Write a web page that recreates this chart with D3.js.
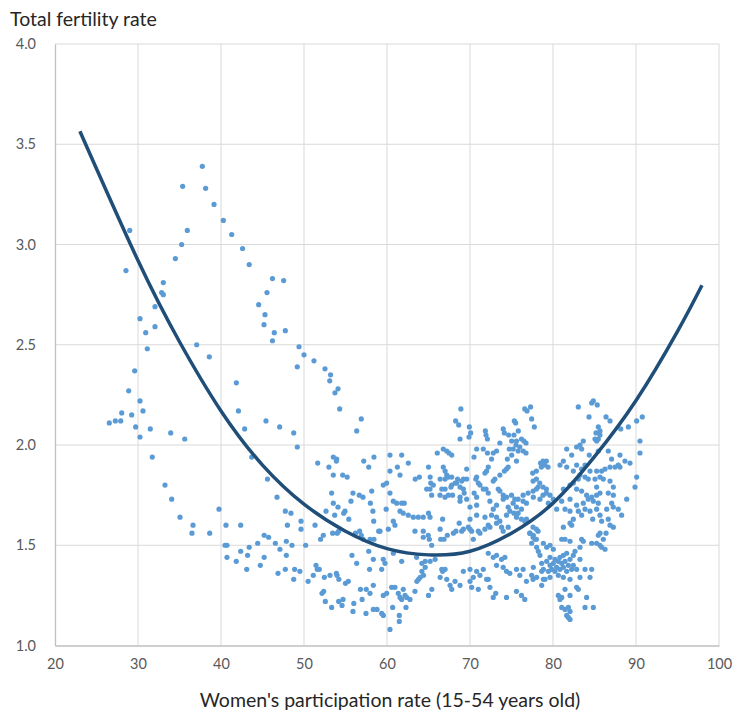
<!DOCTYPE html>
<html>
<head>
<meta charset="utf-8">
<script src="https://cdn.jsdelivr.net/npm/d3@7"></script>
<style>
  html, body { margin: 0; padding: 0; background: #fff; }
  svg { display: block; font-family: Lato, "Open Sans", sans-serif; }
</style>
</head>
<body>
<div id="chart"></div>
<script>
// axis ticks
const xTicks = [20, 30, 40, 50, 60, 70, 80, 90, 100];
const yTicks = [1.0, 1.5, 2.0, 2.5, 3.0, 3.5, 4.0];

// trend line
const trendPoints = [
  [23.0, 3.565], [30, 2.92], [35, 2.515], [40, 2.17], [45, 1.90], [50, 1.705],
  [55, 1.57], [60, 1.483], [65, 1.452], [70, 1.47], [75, 1.56], [80, 1.71],
  [85, 1.942], [90, 2.222], [95, 2.567], [97.95, 2.797]
];

// [participation rate, fertility rate]
const points = [
  [37.75,3.39],[35.38,3.29],[38.15,3.28],[39.16,3.20],[29.0,3.07],[35.94,3.07],[35.26,3.0],[34.5,2.93],[28.55,2.87],[33.05,2.81],[32.85,2.76],[33.05,2.75],
  [40.28,3.12],[41.29,3.05],[42.6,2.98],[43.4,2.90],[46.2,2.83],[47.55,2.82],[45.54,2.76],[44.54,2.70],[45.3,2.65],[45.18,2.60],[46.42,2.56],[47.75,2.57],[46.2,2.52],[49.4,2.49],
  [32.05,2.69],[30.24,2.63],[30.93,2.56],[32.05,2.59],[31.12,2.48],[37.07,2.50],[38.59,2.44],[29.6,2.37],[28.88,2.27],[30.24,2.22],[30.6,2.17],[28.04,2.16],[29.24,2.15],[26.54,2.11],[27.27,2.12],[27.92,2.12],[29.72,2.09],[31.48,2.08],[30.24,2.04],[33.94,2.06],[35.63,2.03],[31.72,1.94],[33.25,1.80],[34.06,1.73],
  [35.06,1.64],[36.63,1.60],[36.5,1.56],[38.64,1.56],[39.76,1.68],
  [50.0,2.45],[49.19,2.39],[51.2,2.42],[52.53,2.38],[53.2,2.35],[53.1,2.32],[54.1,2.28],[53.73,2.26],[41.85,2.31],[54.3,2.18],[56.9,2.13],[56.35,2.07],[42.1,2.17],[42.85,2.08],[45.42,2.12],[47.07,2.09],[48.76,2.06],[49.19,1.99],[43.7,1.94],[45.6,1.83],[46.75,1.74],[51.65,1.91],[53.0,1.89],[53.53,1.94],[53.94,1.93],[53.9,1.92],[57.2,1.92],[58.43,1.94],[57.8,1.89],[53.53,1.85],[54.66,1.85],[55.2,1.84],[53.33,1.76],[55.9,1.76],[56.66,1.75],[57.1,1.74],[58.16,1.77],
  [40.6,1.60],[42.37,1.60],[40.48,1.50],[40.72,1.50],[40.72,1.44],[41.84,1.42],[42.37,1.47],[43.1,1.38],[43.2,1.45],[43.4,1.49],[44.42,1.51],[45.2,1.55],[45.74,1.54],[44.74,1.40],[45.2,1.44],[46.55,1.51],[47.1,1.48],[47.87,1.52],[48.55,1.50],[47.87,1.45],[47.75,1.67],[48.43,1.66],[48.0,1.60],[49.64,1.62],[49.64,1.58],[51.33,1.60],[50.2,1.50],[46.87,1.36],[47.75,1.38],[48.87,1.38],[49.5,1.37],[48.76,1.33],[50.5,1.32],[51.12,1.35],[51.45,1.40],[51.6,1.38],[51.85,1.38],[52.45,1.34],[53.13,1.35],[53.9,1.36],[53.98,1.35],[54.2,1.33],[55.0,1.31],[55.34,1.32],[52.17,1.26],[52.37,1.27],[52.57,1.22],[53.33,1.19],[54.18,1.22],[54.7,1.23],[54.58,1.20],[55.9,1.17],[56.0,1.21],[57.0,1.23],[56.8,1.28],[57.5,1.28],[57.95,1.26],[57.47,1.16],[58.35,1.18],[58.8,1.18],[58.35,1.30],[57.9,1.38],[58.35,1.43],[57.8,1.47],[55.78,1.45],[56.35,1.41],[52.0,1.53],[52.33,1.55],[52.65,1.67],[53.53,1.71],[54.1,1.69],[53.7,1.65],[54.78,1.66],[54.94,1.67],[55.4,1.63],[55.66,1.72],[53.45,1.56],[54.0,1.56],[54.18,1.57],[56.2,1.56],[56.7,1.57],[56.9,1.55],[58.0,1.71],[58.3,1.67],[58.4,1.62],[57.15,1.53],[57.95,1.53],[58.43,1.53],[59.0,1.57],
  [68.9,2.18],[68.27,2.12],[68.64,2.10],[69.92,2.09],[68.8,2.03],[69.88,2.04],[70.08,2.06],[71.85,2.07],[71.93,2.05],[72.1,2.03],[76.6,2.18],[76.87,2.17],[77.3,2.19],[77.43,2.13],[77.75,2.09],[75.34,2.12],[75.5,2.11],[74.0,2.08],[74.14,2.06],[74.66,2.05],
  [75.82,2.07],[75.3,2.05],[75.02,2.02],[75.6,2.02],[76.2,2.03],[76.5,2.02],[76.75,2.01],[75.54,2.00],[76.0,1.99],[75.2,1.98],[75.8,1.97],[76.42,1.97],[74.73,1.98],[75.02,1.95],[75.6,1.92],[74.5,1.93],[76.75,1.96],
  [73.6,2.01],[73.2,1.97],[72.8,1.96],[72.1,1.96],[71.6,1.98],[70.8,1.98],[72.6,1.93],[70.48,1.94],[69.6,1.88],[72.2,1.89],[72.0,1.87],[71.8,1.86],[74.4,1.88],[74.6,1.89],[74.14,1.87],[73.6,1.85],[72.8,1.82],[73.0,1.83],
  [66.06,1.96],[66.78,1.98],[67.2,1.97],[67.47,1.96],[67.8,1.95],[66.78,1.89],[67.0,1.87],[67.2,1.85],[67.4,1.84],[67.8,1.84],[66.4,1.83],[67.0,1.83],[65.0,1.89],[65.2,1.84],[65.27,1.81],[64.78,1.78],[63.4,1.83],[63.9,1.84],[68.4,1.81],[69.0,1.82],[69.2,1.83],[69.6,1.83],[70.8,1.84],[70.7,1.83],[71.0,1.81],[71.2,1.80],[68.8,1.79],[69.2,1.78],[69.3,1.76],[67.8,1.80],[68.2,1.81],[68.5,1.83],[66.6,1.78],[67.0,1.78],[67.7,1.79],[71.6,1.78],[71.93,1.78],[72.2,1.76],[70.5,1.76],[70.8,1.74],[73.4,1.78],[73.6,1.77],[74.0,1.75],
  [74.0,1.73],[74.4,1.74],[75.0,1.75],[75.4,1.73],[75.8,1.73],[76.4,1.72],[76.8,1.71],[75.2,1.71],[74.6,1.69],[75.6,1.69],[76.2,1.68],[74.8,1.67],[75.3,1.66],[75.8,1.66],
  [76.4,1.75],[77.0,1.76],[77.6,1.77],[78.0,1.78],[78.8,1.75],[79.2,1.76],[77.6,1.82],[78.0,1.83],[78.4,1.81],[78.2,1.79],[78.8,1.79],[79.2,1.78],[78.0,1.87],[78.6,1.89],[79.0,1.90],[79.4,1.89],[78.8,1.92],[79.2,1.92],[78.5,1.91],[77.55,1.86],
  [60.36,1.95],[61.77,1.95],[61.25,1.89],[62.57,1.91],[60.36,1.87],[61.57,1.85],[59.55,1.80],[59.96,1.81],[60.36,1.76],[60.76,1.72],[61.17,1.71],[61.77,1.71],[62.08,1.71],[59.9,1.68],[61.57,1.67],[61.96,1.66],[62.57,1.65],[63.17,1.64],[63.77,1.64],[64.37,1.64],[65.18,1.64],[65.0,1.66],[66.7,1.63],[70.0,1.63],[70.8,1.65],[71.8,1.64],[72.6,1.65],[73.2,1.64],[65.18,1.78],[65.38,1.75],[65.58,1.80],[66.39,1.75],[66.99,1.74],[67.4,1.75],[67.9,1.75],[68.8,1.74],[69.6,1.73],[68.8,1.72],[70.0,1.69],[70.8,1.70],[72.4,1.72],[72.8,1.68],[73.2,1.70],
  [60.76,1.62],[60.96,1.60],[59.16,1.57],[60.16,1.58],[63.37,1.57],[64.37,1.57],[64.37,1.54],[64.97,1.55],[65.1,1.53],[65.38,1.50],[66.4,1.58],[66.47,1.53],[66.87,1.53],
  [67.27,1.55],[68.0,1.56],[68.3,1.57],[68.7,1.61],[69.0,1.57],[69.2,1.58],[69.8,1.59],[70.0,1.58],[70.2,1.57],[70.4,1.53],
  [71.0,1.57],[71.2,1.56],[71.8,1.58],[72.2,1.60],[72.4,1.59],[73.2,1.61],[73.6,1.62],[73.8,1.59],[74.0,1.57],[74.6,1.59],[74.4,1.65],[75.6,1.64],[76.2,1.63],[76.6,1.62],[76.8,1.63],[77.2,1.56],[77.6,1.54],[78.0,1.53],[77.6,1.59],[78.0,1.58],[78.2,1.57],
  [72.2,1.46],[72.8,1.44],[73.2,1.45],[73.8,1.43],[74.2,1.44],[73.2,1.40],[74.0,1.39],[74.4,1.37],[74.8,1.36],[75.6,1.38],[76.4,1.38],[76.0,1.35],[76.8,1.32],[77.6,1.33],
  [72.2,1.33],[72.4,1.29],[72.8,1.24],[73.1,1.26],[74.4,1.24],[75.6,1.27],[76.2,1.25],[76.6,1.23],
  [70.0,1.38],[70.4,1.34],[70.8,1.37],[70.0,1.32],[70.2,1.29],[71.2,1.35],[71.6,1.38],[72.0,1.33],[71.0,1.28],
  [69.2,1.37],[68.8,1.30],[68.2,1.32],[67.6,1.30],[67.2,1.33],[67.8,1.28],[66.6,1.38],[67.0,1.38],[66.4,1.34],[66.7,1.37],
  [65.4,1.28],[65.0,1.25],[63.8,1.33],[64.0,1.34],[64.4,1.35],[64.6,1.39],[65.2,1.42],[65.8,1.43],[63.6,1.32],[64.2,1.37],
  [60.56,1.29],[60.96,1.29],[59.55,1.25],[59.96,1.26],[61.96,1.28],[62.17,1.25],[62.37,1.24],[62.77,1.23],[61.57,1.24],[61.77,1.23],[61.36,1.26],
  [59.36,1.16],[59.56,1.15],[60.68,1.19],[61.48,1.15],[61.48,1.12],[62.29,1.19],[60.36,1.08],[63.37,1.27],
  [59.76,1.41],[59.55,1.43],[59.36,1.38],[60.76,1.46],[61.77,1.42],[63.57,1.44],[64.2,1.41],[64.6,1.42],
  [84.86,2.22],[84.66,2.21],[85.33,2.20],[83.05,2.19],[84.34,2.14],[86.39,2.14],[86.87,2.12],[90.76,2.14],[90.08,2.12],[89.08,2.09],[88.16,2.08],[85.46,2.09],[85.66,2.07],[85.18,2.06],[85.06,2.03],[85.46,2.03],[85.66,2.05],[85.26,2.02],[83.65,2.02],[83.25,2.00],[82.85,1.99],[83.45,1.98],
  [81.65,1.98],[82.25,1.95],[84.37,1.95],[85.46,1.97],[86.66,1.97],[87.06,1.93],[88.07,1.95],[88.67,1.92],[88.07,1.89],[89.28,1.91],[90.48,2.02],[90.48,1.96],[90.08,1.84],[89.88,1.79],
  [81.25,1.92],[80.84,1.90],[81.65,1.89],[82.85,1.90],[83.86,1.90],[83.45,1.88],[82.45,1.87],[83.25,1.85],[84.46,1.87],[85.26,1.87],[85.86,1.87],[86.27,1.88],[86.87,1.89],[87.47,1.89],[87.87,1.90],
  [85.06,1.83],[85.66,1.84],[86.06,1.83],[86.87,1.82],[87.27,1.79],[85.26,1.79],[84.25,1.83],[83.86,1.84],[83.05,1.83],[82.45,1.81],[82.05,1.80],[81.25,1.78],[82.85,1.78],[83.45,1.77],[84.05,1.75],[84.66,1.74],[85.26,1.75],[85.66,1.76],[86.66,1.76],[87.27,1.75],
  [84.25,1.73],[84.86,1.72],[85.46,1.71],[83.65,1.71],[82.85,1.70],[82.05,1.73],[81.05,1.72],[80.44,1.68],[81.45,1.68],[82.05,1.67],[83.05,1.67],[83.86,1.68],[84.46,1.67],[85.26,1.68],[86.47,1.68],[87.27,1.69],[87.87,1.68],[88.88,1.73],[88.27,1.65],
  [79.64,1.75],[78.43,1.73],[79.44,1.71],[80.04,1.73],[77.63,1.74],
  [87.07,1.71],[83.45,1.65],[85.66,1.65],[85.86,1.62],[86.66,1.63],[86.87,1.60],[87.27,1.59],[84.78,1.63],[82.45,1.63],[82.05,1.61],[82.25,1.60],[81.25,1.59],
  [85.66,1.56],[85.46,1.55],[86.39,1.56],[86.06,1.53],[85.86,1.49],[85.26,1.51],[85.66,1.50],[86.27,1.48],
  [81.05,1.53],[81.45,1.53],[82.05,1.52],[83.45,1.53],[83.65,1.52],[84.66,1.51],[83.25,1.49],
  [77.23,1.56],[77.63,1.55],[77.83,1.53],[77.43,1.51],[78.03,1.49],[78.23,1.47],[78.84,1.51],[79.24,1.49],[79.64,1.50],[80.04,1.48],[78.43,1.45],
  [79.64,1.44],[80.24,1.43],[80.84,1.44],[81.25,1.45],[81.65,1.46],[82.05,1.43],[82.45,1.45],[82.65,1.47],[80.64,1.42],[81.05,1.41],[81.45,1.42],[80.04,1.41],[79.64,1.40],[80.44,1.39],[81.25,1.39],[81.85,1.40],[82.45,1.40],[82.85,1.38],[80.84,1.38],[80.24,1.37],[79.84,1.38],[79.44,1.37],[81.65,1.37],[82.25,1.38],[81.25,1.34],[80.64,1.35],[79.64,1.34],[79.04,1.33],[82.05,1.33],[83.25,1.43],[83.25,1.34],[83.86,1.38],[84.46,1.34],[84.66,1.38],[78.84,1.38],[78.64,1.37],[78.03,1.34],[78.84,1.33],[77.43,1.35],[77.63,1.39],[78.64,1.41],[79.24,1.42],
  [78.64,1.30],
  [82.85,1.29],[83.05,1.28],[81.45,1.28],[82.05,1.25],[80.64,1.25],[81.05,1.24],[80.84,1.23],[84.05,1.24],[83.86,1.19],[84.86,1.19],[81.05,1.19],[81.45,1.18],[81.85,1.19],[82.05,1.17],[81.65,1.15],[81.85,1.14],[82.05,1.13]
];

const width = 733;
const height = 711;
const marginLeft = 55;
const marginRight = 14;
const marginTop = 44;
const marginBottom = 65.5;

const x = d3.scaleLinear().domain([20, 100]).range([marginLeft, width - marginRight]);
const y = d3.scaleLinear().domain([1.0, 4.0]).range([height - marginBottom, marginTop]);

const svg = d3.select("#chart").append("svg").attr("width", width).attr("height", height);

// gridlines
svg.append("g")
  .selectAll("line")
  .data(yTicks.slice(1))
  .join("line")
  .attr("x1", marginLeft).attr("x2", width - marginRight)
  .attr("y1", (d) => y(d)).attr("y2", (d) => y(d))
  .attr("stroke", "#d9d9d9").attr("stroke-width", 1);

svg.append("g")
  .selectAll("line")
  .data(xTicks.slice(1))
  .join("line")
  .attr("x1", (d) => x(d)).attr("x2", (d) => x(d))
  .attr("y1", marginTop).attr("y2", height - marginBottom)
  .attr("stroke", "#d9d9d9").attr("stroke-width", 1);

// axes (no ticks, just the lines + labels)
const xAxis = svg.append("g")
  .attr("transform", `translate(0,${height - marginBottom})`)
  .call(d3.axisBottom(x).tickValues(xTicks).tickSize(0).tickPadding(13).tickFormat(d3.format("d")));
xAxis.select(".domain").attr("stroke", "#bfbfbf").attr("stroke-width", 1.3);
xAxis.selectAll("text").attr("font-size", 14.5).attr("fill", "#595959").attr("font-family", "Lato, sans-serif");

const yAxis = svg.append("g")
  .attr("transform", `translate(${marginLeft},0)`)
  .call(d3.axisLeft(y).tickValues(yTicks).tickSize(0).tickPadding(19).tickFormat(d3.format(".1f")));
yAxis.select(".domain").attr("stroke", "#bfbfbf").attr("stroke-width", 1.3);
yAxis.selectAll("text").attr("font-size", 14.5).attr("fill", "#595959").attr("font-family", "Lato, sans-serif");

// scatter
svg.append("g")
  .attr("fill", "#5b9bd5")
  .selectAll("circle")
  .data(points)
  .join("circle")
  .attr("cx", (d) => x(d[0]))
  .attr("cy", (d) => y(d[1]))
  .attr("r", 2.6);

// trend line
const line = d3.line().curve(d3.curveNatural).x((d) => x(d[0])).y((d) => y(d[1]));
svg.append("path")
  .datum(trendPoints)
  .attr("fill", "none")
  .attr("stroke", "#1f4e79")
  .attr("stroke-width", 3.5)
  .attr("d", line);

// titles
svg.append("text")
  .attr("x", 10).attr("y", 26)
  .attr("font-size", 19.5)
  .attr("fill", "#262626")
  .text("Total fertility rate");

svg.append("text")
  .attr("x", 390).attr("y", 707)
  .attr("text-anchor", "middle")
  .attr("font-size", 19.5)
  .attr("fill", "#262626")
  .text("Women's participation rate (15-54 years old)");
</script>
</body>
</html>
